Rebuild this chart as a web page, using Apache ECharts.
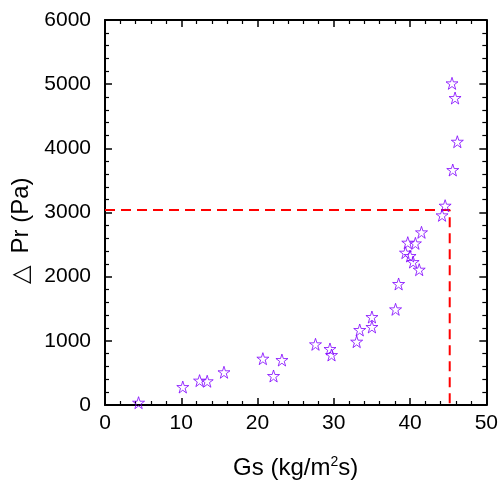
<!DOCTYPE html>
<html>
<head>
<meta charset="utf-8">
<script src="https://cdn.jsdelivr.net/npm/echarts@6/dist/echarts.min.js"></script>
<style>
  html, body { margin: 0; padding: 0; background: #fff; }
  #main { width: 501px; height: 486px; }
</style>
</head>
<body>
<div id="main"></div>
<script>
// measured points
var gs = [4.4, 10.2, 12.4, 13.4, 15.6, 20.7, 22.1, 23.2, 27.6, 29.5, 29.7, 33.0, 33.4, 35.0, 35.0,
          38.1, 38.5, 39.4, 39.7, 40.0, 40.4, 40.7, 41.2, 41.5, 44.2, 44.6, 45.6, 45.5, 45.9, 46.2];
var pr = [36, 280, 380, 370, 510, 722, 452, 701, 946, 873, 779, 987, 1169, 1371, 1216,
          1491, 1886, 2374, 2530, 2322, 2228, 2519, 2109, 2691, 2956, 3106, 3662, 5013, 4784, 4103];
// red guide lines
var cutGs = 45.2;
var cutPr = 3040;

var star = 'path://M50,2 L61,36 L97,36 L68,57 L79,92 L50,71 L21,92 L32,57 L3,36 L39,36 Z';
var font = 'Arial, "Liberation Sans", sans-serif';

var points = gs.map(function (g, i) { return [g, pr[i]]; });

var chart = echarts.init(document.getElementById('main'));

function frameAxis(pos, max, interval) {
    return {
        type: 'value', position: pos, min: 0, max: max, interval: interval,
        axisLine: { show: true, onZero: false, lineStyle: { color: '#000', width: 2 } },
        axisTick: { show: true, inside: true, length: 7, lineStyle: { color: '#000', width: 1.5 } },
        minorTick: { show: true, splitNumber: 5, length: 4, lineStyle: { color: '#000', width: 1.2 } },
        axisLabel: { show: false },
        splitLine: { show: false }
    };
}

var xBottom = frameAxis('bottom', 50, 10);
xBottom.axisLabel = { show: true, fontSize: 21, color: '#000', fontFamily: font, margin: 8 };
xBottom.name = 'Gs (kg/m{sup|2}s)';
xBottom.nameLocation = 'middle';
xBottom.nameGap = 50;
xBottom.nameTextStyle = {
    fontSize: 24, color: '#000', fontFamily: font,
    rich: { sup: { fontSize: 14, fontFamily: font, color: '#000', verticalAlign: 'top', padding: [0, 0, 12, 0] } }
};
var xTop = frameAxis('top', 50, 10);

var yLeft = frameAxis('left', 6000, 1000);
yLeft.axisLabel = {
    show: true, fontSize: 21, color: '#000', fontFamily: font, margin: 14,
    formatter: function (v) { return String(v); }
};
yLeft.name = '\u25B3\u2002Pr (Pa)';
yLeft.nameLocation = 'middle';
yLeft.nameGap = 70;
yLeft.nameRotate = 90;
yLeft.nameTextStyle = { fontSize: 24, color: '#000', fontFamily: font, padding: [0, 36, 0, 0] };
var yRight = frameAxis('right', 6000, 1000);

chart.setOption({
    animation: false,
    grid: { left: 105, right: 14, top: 20, bottom: 81 },
    xAxis: [xBottom, xTop],
    yAxis: [yLeft, yRight],
    series: [
        {
            type: 'line',
            data: [[0, cutPr], [cutGs, cutPr], [cutGs, 0]],
            symbol: 'none',
            lineStyle: { color: '#ff0000', width: 2, type: [10, 6] },
            z: 1
        },
        {
            type: 'scatter',
            data: points,
            symbol: star,
            symbolSize: 12,
            itemStyle: { color: 'rgba(255,255,255,0)', borderColor: '#8000ff', borderWidth: 1 },
            z: 3
        }
    ]
});
</script>
</body>
</html>
